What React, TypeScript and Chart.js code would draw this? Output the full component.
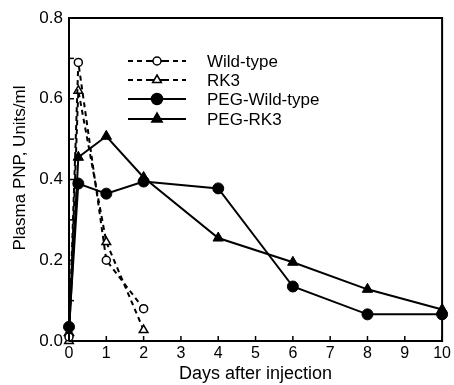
import React, { useEffect, useRef } from "react";
import { Chart, registerables } from "chart.js";

Chart.register(...registerables);

const seriesNames = ["Wild-type", "RK3", "PEG-Wild-type", "PEG-RK3"];
const wtDays = [0, 0.25, 1, 2];
const wtValues = [0.01, 0.69, 0.2, 0.08];
const rk3Days = [0, 0.25, 1, 2];
const rk3Values = [0.0, 0.62, 0.245, 0.027];
const pegWtDays = [0, 0.25, 1, 2, 4, 6, 8, 10];
const pegWtValues = [0.035, 0.39, 0.365, 0.395, 0.378, 0.135, 0.066, 0.066];
const pegRk3Days = [0, 0.25, 1, 2, 4, 6, 8, 10];
const pegRk3Values = [0.02, 0.455, 0.507, 0.405, 0.255, 0.195, 0.128, 0.078];
const xTicks = [0, 1, 2, 3, 4, 5, 6, 7, 8, 9, 10];
const yTicks = [0, 0.1, 0.2, 0.3, 0.4, 0.5, 0.6, 0.7, 0.8];
const yLabels = ["0.0", "", "0.2", "", "0.4", "", "0.6", "", "0.8"];
const yTitle = "Plasma PNP, Units/ml";
const xTitle = "Days after injection";

const FONT = "'Liberation Sans', Arial, Helvetica, sans-serif";

function pts(xs: number[], ys: number[]) {
  return xs.map((x, i) => ({ x, y: ys[i] }));
}

const framePlugin = {
  id: "frameTicks",
  afterDraw(chart: any) {
    const { ctx, chartArea: a, scales } = chart;
    ctx.save();
    ctx.strokeStyle = "#000";
    ctx.lineWidth = 2;
    ctx.beginPath();
    ctx.moveTo(a.left, a.bottom);
    ctx.lineTo(a.left, a.top);
    ctx.lineTo(a.right, a.top);
    ctx.lineTo(a.right, a.bottom);
    ctx.lineTo(a.left, a.bottom);
    ctx.stroke();
    ctx.lineWidth = 1.5;
    for (const v of xTicks) {
      const px = scales.x.getPixelForValue(v);
      ctx.beginPath();
      ctx.moveTo(px, a.bottom);
      ctx.lineTo(px, a.bottom - 5);
      ctx.stroke();
    }
    for (const v of yTicks) {
      const py = scales.y.getPixelForValue(v);
      ctx.beginPath();
      ctx.moveTo(a.left, py);
      ctx.lineTo(a.left + 5, py);
      ctx.stroke();
    }
    // y-axis title
    ctx.fillStyle = "#000";
    ctx.font = `17px ${FONT}`;
    ctx.textAlign = "center";
    ctx.textBaseline = "middle";
    ctx.translate(20, 168);
    ctx.rotate(-Math.PI / 2);
    ctx.fillText(yTitle, 0, 0);
    ctx.restore();
  },
};

const legendPlugin = {
  id: "customLegend",
  afterDatasetsDraw(chart: any) {
    const { ctx } = chart;
    const x0 = 128, x1 = 186, tx = 207;
    const rows = [61, 80, 99, 119];
    ctx.save();
    chart.data.datasets.forEach((ds: any, i: number) => {
      const y = rows[i];
      ctx.strokeStyle = "#000";
      ctx.lineWidth = ds.borderWidth;
      ctx.setLineDash(ds.borderDash || []);
      ctx.beginPath();
      ctx.moveTo(x0, y);
      ctx.lineTo(x1, y);
      ctx.stroke();
      ctx.setLineDash([]);
      const cx = (x0 + x1) / 2;
      ctx.fillStyle = "#fff";
      ctx.fillRect(cx - 7, y - 6, 14, 12);
      ctx.beginPath();
      ctx.moveTo(cx - 7, y);
      ctx.lineTo(cx + 7, y);
      ctx.stroke();
      ctx.lineWidth = 1.5;
      ctx.fillStyle = ds.pointBackgroundColor;
      ctx.beginPath();
      const r = ds.pointRadius;
      if (ds.pointStyle === "circle") {
        ctx.arc(cx, y, r, 0, Math.PI * 2);
      } else {
        ctx.moveTo(cx, y - r);
        ctx.lineTo(cx + r * 0.87, y + r * 0.5);
        ctx.lineTo(cx - r * 0.87, y + r * 0.5);
        ctx.closePath();
      }
      ctx.fill();
      ctx.stroke();
      ctx.fillStyle = "#000";
      ctx.font = `17px ${FONT}`;
      ctx.textBaseline = "middle";
      ctx.textAlign = "left";
      ctx.fillText(ds.label, tx, y + 1);
    });
    ctx.restore();
  },
};

export default function App() {
  const ref = useRef<HTMLCanvasElement | null>(null);
  useEffect(() => {
    if (!ref.current) return;
    const dash = [5, 4];
    const chart = new Chart(ref.current, {
      type: "line",
      data: {
        datasets: [
          {
            label: seriesNames[0],
            data: pts(wtDays, wtValues),
            borderColor: "#000",
            borderWidth: 2,
            borderDash: dash,
            pointStyle: "circle",
            pointRadius: 4,
            pointBorderWidth: 1.5,
            pointBorderColor: "#000",
            pointBackgroundColor: "#fff",
            clip: false,
          },
          {
            label: seriesNames[1],
            data: pts(rk3Days, rk3Values),
            borderColor: "#000",
            borderWidth: 2,
            borderDash: dash,
            pointStyle: "triangle",
            pointRadius: 5,
            pointBorderWidth: 1.5,
            pointBorderColor: "#000",
            pointBackgroundColor: "#fff",
            clip: false,
          },
          {
            label: seriesNames[2],
            data: pts(pegWtDays, pegWtValues),
            borderColor: "#000",
            borderWidth: 2,
            pointStyle: "circle",
            pointRadius: 5.5,
            pointBorderWidth: 1,
            pointBorderColor: "#000",
            pointBackgroundColor: "#000",
            clip: false,
          },
          {
            label: seriesNames[3],
            data: pts(pegRk3Days, pegRk3Values),
            borderColor: "#000",
            borderWidth: 2,
            pointStyle: "triangle",
            pointRadius: 6,
            pointBorderWidth: 1,
            pointBorderColor: "#000",
            pointBackgroundColor: "#000",
            clip: false,
          },
        ] as any,
      },
      options: {
        animation: false,
        responsive: false,
        devicePixelRatio: 1,
        layout: { autoPadding: false, padding: { top: 18, right: 8, left: 0, bottom: 0 } },
        plugins: { legend: { display: false }, tooltip: { enabled: false } },
        elements: { line: { tension: 0 } },
        scales: {
          x: {
            type: "linear",
            min: 0,
            max: 10,
            afterFit: (s: any) => {
              s.height = 44;
            },
            afterBuildTicks: (s: any) => {
              s.ticks = xTicks.map((v) => ({ value: v }));
            },
            grid: { display: false, drawTicks: false },
            border: { display: false },
            ticks: {
              color: "#000",
              padding: 3,
              font: { family: FONT, size: 16 },
              callback: (v: any) => String(v),
            },
            title: {
              display: true,
              text: xTitle,
              color: "#000",
              font: { family: FONT, size: 18 },
              padding: { top: 6, bottom: 0 },
            },
          },
          y: {
            type: "linear",
            min: 0,
            max: 0.8,
            afterFit: (s: any) => {
              s.width = 69;
            },
            afterBuildTicks: (s: any) => {
              s.ticks = yTicks.map((v) => ({ value: v }));
            },
            grid: { display: false, drawTicks: false },
            border: { display: false },
            ticks: {
              color: "#000",
              padding: 6,
              font: { family: FONT, size: 17 },
              autoSkip: false,
              callback: (_v: any, i: number) => yLabels[i],
            },
            title: { display: false },
          },
        },
      } as any,
      plugins: [framePlugin, legendPlugin],
    });
    return () => chart.destroy();
  }, []);
  return (
    <div style={{ position: "fixed", left: 0, top: 0, width: 454, height: 385, background: "#fff" }}>
      <canvas ref={ref} width={454} height={385} />
    </div>
  );
}
